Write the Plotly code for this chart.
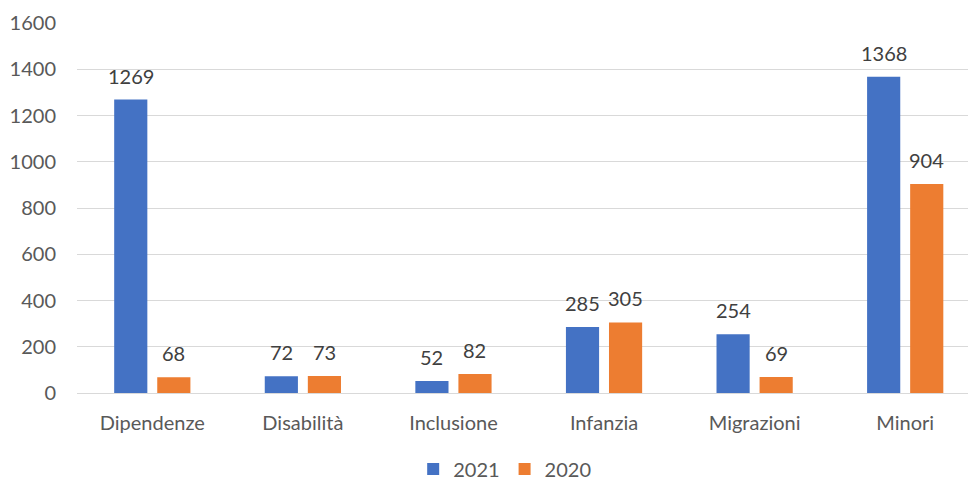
import plotly.graph_objects as go

categories = ["Dipendenze", "Disabilità", "Inclusione", "Infanzia", "Migrazioni", "Minori"]
values_2021 = [1269, 72, 52, 285, 254, 1368]
values_2020 = [68, 73, 82, 305, 69, 904]
y_ticks = [0, 200, 400, 600, 800, 1000, 1200, 1400, 1600]

FONT = "Lato"
AXIS_COLOR = "#595959"
LABEL_COLOR = "#404040"
SIZE = 20

series = [
    ("2021", values_2021, "#4472C4", -21.5),
    ("2020", values_2020, "#ED7D31", 21.5),
]

fig = go.Figure()
for name, vals, color, shift in series:
    fig.add_trace(go.Bar(
        name=name, x=categories, y=vals,
        marker=dict(color=color, line=dict(width=0)),
    ))
    # value labels floating above each bar
    for cat, v in zip(categories, vals):
        fig.add_annotation(
            x=cat, y=v, text=str(v), showarrow=False,
            xshift=shift, yshift=24, yanchor="middle",
            font=dict(family=FONT, size=SIZE, color=LABEL_COLOR),
        )

fig.update_layout(
    width=968, height=481,
    margin=dict(l=77, r=0, t=23, b=88),
    paper_bgcolor="white", plot_bgcolor="white",
    barmode="group", bargap=0.428, bargroupgap=0.23,
    font=dict(family=FONT, size=SIZE, color=AXIS_COLOR),
    showlegend=True,
    legend=dict(
        orientation="h", x=0.48, xanchor="center",
        yref="container", y=0.025, yanchor="middle",
        font=dict(family=FONT, size=SIZE, color=AXIS_COLOR),
        itemwidth=30, traceorder="normal",
    ),
    xaxis=dict(
        range=[-0.5, 5.417], showgrid=False, showline=False, zeroline=False,
        ticks="", ticklabelstandoff=16, automargin=False,
        tickfont=dict(family=FONT, size=SIZE, color=AXIS_COLOR),
    ),
    yaxis=dict(
        range=[0, 1600], tickvals=y_ticks, showgrid=True, gridcolor="#D9D9D9",
        gridwidth=1, zeroline=True, zerolinecolor="#D9D9D9", zerolinewidth=1,
        showline=False, ticks="", ticklabelstandoff=20, automargin=False,
        tickfont=dict(family=FONT, size=SIZE, color=AXIS_COLOR),
    ),
)

fig.write_html("out.html")
